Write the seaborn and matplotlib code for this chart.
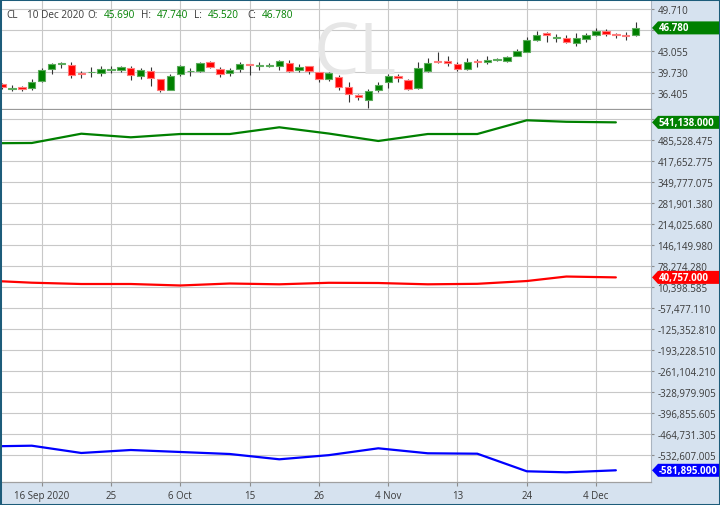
import numpy as np
import pandas as pd
import matplotlib
matplotlib.use("Agg")
import matplotlib.pyplot as plt
import seaborn as sns
from matplotlib.patches import Polygon, Rectangle
from matplotlib.transforms import IdentityTransform

# ------------------------------------------------------------------ data
symbol = "CL"
holidays = ["2020-11-26"]
trade_dates = pd.bdate_range("2020-09-10", "2020-12-10", freq="C", holidays=holidays)

opens = [37.85, 37.00, 37.30, 37.21, 38.28, 40.19, 40.98, 40.87, 39.55, 39.72,
         39.55, 40.05, 40.08, 40.44, 39.07, 39.87, 38.60, 36.94, 39.44, 39.85,
         39.97, 41.30, 40.28, 39.60, 40.19, 41.02, 40.75, 40.78, 40.67, 41.19,
         40.03, 40.67, 39.71, 38.60, 38.92, 37.32, 36.02, 35.30, 36.94, 38.12,
         39.17, 38.44, 37.26, 39.87, 41.55, 41.46, 40.98, 40.19, 41.50, 41.30,
         41.62, 41.56, 42.35, 42.99, 44.85, 45.97, 45.15, 45.12, 44.33, 45.00,
         45.65, 46.28, 45.85, 45.65, 45.69]
highs = [37.95, 37.70, 37.60, 38.64, 40.35, 41.19, 41.40, 41.30, 39.97, 40.55,
         40.67, 40.67, 40.76, 40.76, 40.40, 40.51, 38.62, 39.40, 40.87, 40.35,
         41.40, 41.46, 40.51, 40.35, 41.30, 41.10, 41.30, 41.19, 41.72, 41.67,
         41.03, 40.76, 39.75, 39.80, 39.28, 38.10, 36.26, 37.10, 38.21, 39.44,
         39.44, 38.64, 41.30, 41.94, 42.99, 42.26, 41.30, 42.04, 41.83, 42.35,
         41.95, 42.35, 43.42, 45.28, 46.25, 46.08, 45.80, 45.65, 45.97, 45.97,
         46.72, 46.60, 45.97, 46.17, 47.74]
lows = [37.10, 36.70, 36.80, 36.94, 38.20, 39.39, 40.45, 38.76, 38.85, 39.00,
        39.17, 39.60, 39.71, 38.50, 38.64, 37.58, 36.53, 36.85, 39.07, 39.17,
        39.71, 40.35, 39.00, 39.17, 39.80, 39.28, 40.12, 40.55, 40.12, 39.71,
        39.80, 39.44, 38.21, 38.37, 36.94, 34.93, 35.30, 34.00, 36.53, 37.16,
        38.21, 36.94, 37.10, 39.71, 41.20, 40.76, 39.97, 40.12, 40.50, 41.03,
        41.45, 41.30, 42.26, 42.90, 44.70, 44.49, 44.49, 44.38, 43.95, 44.58,
        45.54, 45.54, 45.12, 44.90, 45.52]
closes = [37.32, 37.28, 37.12, 38.21, 40.12, 40.98, 41.12, 39.28, 39.44, 39.82,
          40.28, 40.22, 40.50, 39.28, 40.12, 38.76, 36.94, 39.17, 40.67, 39.97,
          41.14, 40.55, 39.44, 40.12, 40.98, 40.90, 40.85, 40.88, 41.46, 39.92,
          40.60, 39.87, 38.60, 39.55, 37.32, 36.26, 35.78, 36.78, 37.69, 39.07,
          38.76, 37.05, 40.35, 41.19, 41.40, 41.15, 40.19, 41.30, 41.36, 41.72,
          41.75, 42.10, 43.06, 44.90, 45.70, 45.70, 45.35, 44.49, 45.22, 45.65,
          46.24, 45.81, 45.65, 45.50, 46.78]

cot_dates = ["2020-09-08", "2020-09-15", "2020-09-22", "2020-09-29", "2020-10-06",
             "2020-10-13", "2020-10-20", "2020-10-27", "2020-11-03", "2020-11-10",
             "2020-11-17", "2020-11-24", "2020-12-01", "2020-12-08"]
large_specs = [473500, 474500, 504500, 492900, 503500, 503500, 525200, 505000,
               481000, 503500, 503500, 547800, 543000, 541138]
small_traders = [31000, 23600, 19400, 19400, 14600, 21000, 18400, 23300,
                 22600, 18400, 20000, 29000, 43500, 40757]
commercials = [-505000, -502500, -526000, -516400, -522800, -529300, -546400, -533000,
               -510900, -527000, -528300, -585100, -588400, -581895]

price_ticks = [49.710, 46.385, 43.055, 39.730, 36.405]
price_tick_labels = ["49.710", "", "43.055", "39.730", "36.405"]  # 46.385 sits under the price tag
cot_ticks = [553404.175, 485528.475, 417652.775, 349777.075, 281901.380, 214025.680,
             146149.980, 78274.280, 10398.585, -57477.110, -125352.810, -193228.510,
             -261104.210, -328979.905, -396855.605, -464731.305, -532607.005]
date_ticks = ["2020-09-16", "2020-09-25", "2020-10-06", "2020-10-15", "2020-10-26",
              "2020-11-04", "2020-11-13", "2020-11-24", "2020-12-04"]
date_tick_labels = ["16 Sep 2020", "25", "6 Oct", "15", "26", "4 Nov", "13", "24", "4 Dec"]

# ------------------------------------------------------------------ style
GREEN, RED, BLUE = "#008000", "#ff0000", "#0000ff"
GREEN_EDGE, RED_EDGE = "#5cab5c", "#ff7a7a"
AXIS_BG = "#d6e2ef"
GRID = "#c8c8c8"
TXT = "#3a3a3a"

sns.set_theme(style="white")
plt.rcParams["font.family"] = ["Open Sans", "DejaVu Sans"]

W, H = 720, 506
fig = plt.figure(figsize=(W / 100, H / 100), dpi=100)
fig.patch.set_facecolor("white")


def fx(px):
    return px / W


def fy(py):  # py measured from the top
    return 1 - py / H


plot_l, plot_r = 2, 651
top_t, top_b = 1, 110
bot_t, bot_b = 111, 483

fig.add_artist(Rectangle((fx(plot_r), 0), 1 - fx(plot_r), 1, transform=fig.transFigure,
                         facecolor=AXIS_BG, edgecolor="none", zorder=-2))
fig.add_artist(Rectangle((0, 0), 1, fy(bot_b), transform=fig.transFigure,
                         facecolor=AXIS_BG, edgecolor="none", zorder=-2))

ax1 = fig.add_axes([fx(plot_l), fy(top_b), fx(plot_r) - fx(plot_l), (top_b - top_t) / H])
ax2 = fig.add_axes([fx(plot_l), fy(bot_b), fx(plot_r) - fx(plot_l), (bot_b - bot_t) / H])

first = trade_dates[0].strftime("%Y-%m-%d")
xpos = np.busday_count(first, [d.strftime("%Y-%m-%d") for d in trade_dates], holidays=holidays)
cot_x = np.busday_count(first, cot_dates, holidays=holidays)
tick_x = np.busday_count(first, date_ticks, holidays=holidays)

# ------------------------------------------------------------------ candles
o, hi, lo, c = map(np.asarray, (opens, highs, lows, closes))
up = c >= o
body_col = np.where(up, GREEN, RED)
edge_col = np.where(up, GREEN_EDGE, RED_EDGE)
ax1.vlines(xpos, lo, hi, color="#333333", lw=0.8, zorder=2)
body_h = np.maximum(np.abs(c - o), 0.12)
body_b = np.minimum(o, c) - (body_h - np.abs(c - o)) / 2
ax1.bar(xpos, body_h, bottom=body_b, width=0.74, color=body_col, edgecolor=edge_col,
        linewidth=0.8, zorder=3)

ax1.text((355 - plot_l) / (plot_r - plot_l), 0.50, symbol, transform=ax1.transAxes,
         fontsize=52, color="#e6e6e6", ha="center", va="center", zorder=1)

# ------------------------------------------------------------------ COT lines
cot_df = pd.DataFrame({
    "x": np.concatenate([cot_x, cot_x, cot_x]),
    "value": large_specs + small_traders + commercials,
    "series": ["Large Speculators"] * len(cot_x) + ["Small Traders"] * len(cot_x)
              + ["Commercials"] * len(cot_x),
})
sns.lineplot(data=cot_df, x="x", y="value", hue="series", estimator=None, sort=False,
             palette={"Large Speculators": GREEN, "Small Traders": RED, "Commercials": BLUE},
             linewidth=1.6, legend=False, ax=ax2, zorder=3)

# ------------------------------------------------------------------ axes
xlim = (-0.01, 65.55)
for ax in (ax1, ax2):
    ax.set_facecolor("white")
    ax.set_xlim(*xlim)
    ax.set_xticks(tick_x)
    ax.yaxis.tick_right()
    ax.grid(True, color=GRID, lw=0.8)
    ax.set_axisbelow(True)
    ax.set_xlabel("")
    ax.set_ylabel("")
    for s in ("left", "top"):
        ax.spines[s].set_visible(False)
    ax.spines["right"].set_color("#aab4c0")
    ax.spines["right"].set_linewidth(0.8)
    ax.spines["bottom"].set_color("#a0a0a0")
    ax.spines["bottom"].set_linewidth(0.9)
    ax.tick_params(axis="y", which="both", right=True, left=False, direction="out",
                   length=2.5, width=0.8, color="#8c8c8c", pad=2, labelsize=7,
                   labelcolor=TXT)

ax1.set_ylim(33.87, 51.22)
ax1.set_yticks(price_ticks)
ax1.set_yticklabels(price_tick_labels)
ax1.tick_params(axis="x", length=0, labelbottom=False)
ax1.spines["bottom"].set_color("#999999")

ax2.set_ylim(-619663, 581004)
ax2.set_yticks(cot_ticks)
ax2.set_yticklabels([f"{v:,.3f}" for v in cot_ticks])
ax2.set_xticklabels(date_tick_labels)
ax2.tick_params(axis="x", bottom=True, direction="out", length=3, width=0.8,
                color="#8c8c8c", pad=3, labelsize=7, labelcolor=TXT)
# the top tick label is mostly covered by the value tag in the reference
ax2.get_yticklabels()[0].set_clip_on(False)


# ------------------------------------------------------------------ value tags
def value_tag(ax, value, text, color):
    ypix = ax.transData.transform((0, value))[1]
    tip = plot_r + 1
    hh = 6.5
    pts = [[tip, ypix], [tip + 6, ypix + hh], [W, ypix + hh], [W, ypix - hh], [tip + 6, ypix - hh]]
    fig.add_artist(Polygon(pts, closed=True, transform=IdentityTransform(),
                           facecolor=color, edgecolor="none", zorder=5))
    fig.text((tip + 7) / W, ypix / H, text, color="white", fontsize=7, fontweight="bold",
             ha="left", va="center", zorder=6)


value_tag(ax1, closes[-1], f"{closes[-1]:.3f}", GREEN)
value_tag(ax2, large_specs[-1], f"{large_specs[-1]:,.3f}", GREEN)
value_tag(ax2, small_traders[-1], f"{small_traders[-1]:,.3f}", RED)
value_tag(ax2, commercials[-1], f"{commercials[-1]:,.3f}", BLUE)

# ------------------------------------------------------------------ header
last_date = trade_dates[-1].strftime("%-d %b %Y")
header = [(6, symbol, TXT), (27, last_date, TXT),
          (87, "O:", TXT), (104, f"{opens[-1]:.3f}", GREEN),
          (141, "H:", TXT), (157, f"{highs[-1]:.3f}", GREEN),
          (194, "L:", TXT), (208, f"{lows[-1]:.3f}", GREEN),
          (247, "C:", TXT), (262, f"{closes[-1]:.3f}", GREEN)]
for px, txt, col in header:
    fig.text(fx(px), fy(15), txt, color=col, fontsize=7.2, ha="left", va="center", zorder=6)

# frame
fig.add_artist(Rectangle((0, 0), 1, 1, transform=fig.transFigure, facecolor="none",
                         edgecolor="#1d5c7a", lw=2.2, zorder=10))

fig.savefig("out.png", dpi=100)
